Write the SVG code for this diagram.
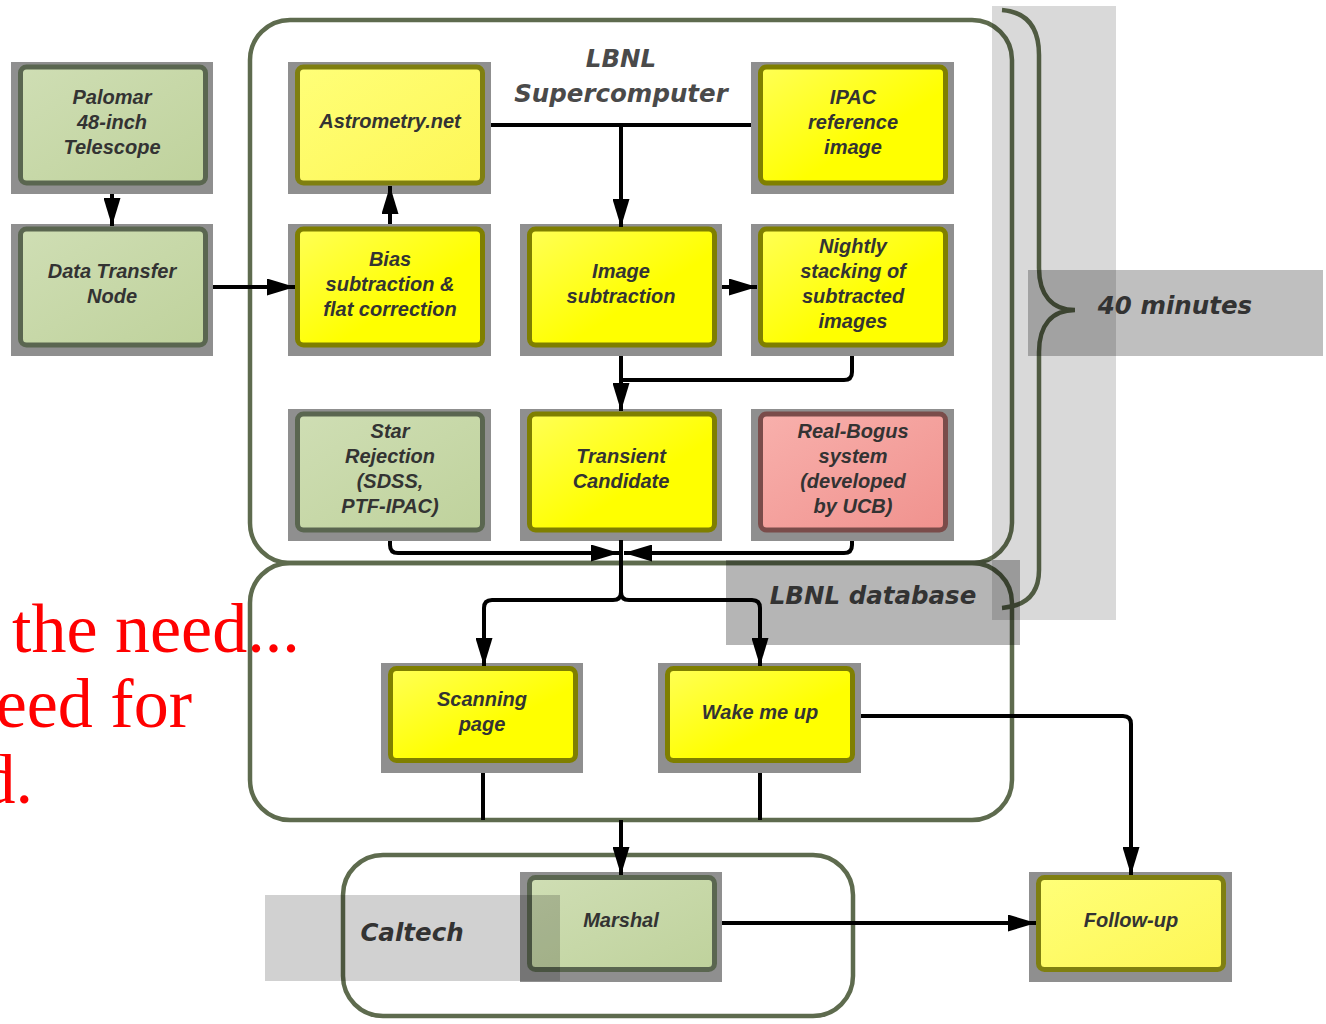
<svg xmlns="http://www.w3.org/2000/svg" width="1326" height="1024" viewBox="0 0 1326 1024">
<style>
.cont{fill:none;stroke:#5e6b4e;stroke-width:4.5}
.sh{fill:#8f8f8f}
.iy{fill:url(#gY);stroke:#7f7f00;stroke-width:5}
.ip{fill:url(#gP);stroke:#7f7f10;stroke-width:5}
.ig{fill:url(#gG);stroke:#5a6650;stroke-width:5}
.ir{fill:url(#gR);stroke:#7a4c4a;stroke-width:5}
.nt{font-family:"Liberation Sans",Arial,sans-serif;font-weight:bold;font-style:italic;font-size:20px;fill:#333;text-anchor:middle}
.lb{font-family:"DejaVu Sans",sans-serif;font-weight:bold;font-style:oblique;font-size:24.5px;fill:#333;text-anchor:middle}
.cn{fill:none;stroke:#000;stroke-width:4;stroke-linejoin:round}
.red{font-family:"Liberation Serif","Times New Roman",serif;font-size:70px;fill:#ff0000}
</style>
<defs>
<linearGradient id="gY" x1="0" y1="0" x2="1" y2="1"><stop offset="0" stop-color="#ffff55"/><stop offset="0.6" stop-color="#ffff00"/></linearGradient>
<linearGradient id="gP" x1="0" y1="0" x2="1" y2="1"><stop offset="0" stop-color="#ffff78"/><stop offset="1" stop-color="#fdf655"/></linearGradient>
<linearGradient id="gG" x1="0" y1="0" x2="1" y2="1"><stop offset="0" stop-color="#cfdeb4"/><stop offset="1" stop-color="#bfd29c"/></linearGradient>
<linearGradient id="gR" x1="0" y1="0" x2="1" y2="1"><stop offset="0" stop-color="#f8b0ac"/><stop offset="1" stop-color="#f0928e"/></linearGradient>
<marker id="ah" markerUnits="userSpaceOnUse" markerWidth="28" markerHeight="17" viewBox="0 0 28 17" refX="28" refY="8.5" orient="auto"><path d="M0,0 L28,8.5 L0,17 z" fill="#000"/></marker>
</defs>

<g id="containers">
<rect id="lbnl-super" class="cont" x="250" y="20" width="762" height="543" rx="40"/>
<rect id="lbnl-db" class="cont" x="250" y="563" width="762" height="257" rx="40"/>
<rect id="caltech" class="cont" x="343" y="855" width="510" height="161" rx="40"/>
<path id="brace" class="cont" d="M1002,10 C1026,12 1039,26 1039,55 V268 C1039,295 1052,310 1075,310 C1052,310 1039,325 1039,352 V570 C1039,594 1026,606 1002,608"/>
</g>

<g id="palomar"><rect class="sh" x="11" y="62" width="202" height="132"/><rect class="ig" x="20.5" y="67" width="185" height="116" rx="6"/>
<text class="nt" x="112" y="104">Palomar</text><text class="nt" x="112" y="129">48-inch</text><text class="nt" x="112" y="154">Telescope</text></g>

<g id="dtn"><rect class="sh" x="11" y="224" width="202" height="132"/><rect class="ig" x="20.5" y="229" width="185" height="116" rx="6"/>
<text class="nt" x="112" y="278">Data Transfer</text><text class="nt" x="112" y="303">Node</text></g>

<g id="astrometry"><rect class="sh" x="288" y="62" width="203" height="132"/><rect class="ip" x="297.5" y="67" width="185" height="116" rx="6"/>
<text class="nt" x="390" y="128">Astrometry.net</text></g>

<g id="ipac"><rect class="sh" x="751" y="62" width="203" height="132"/><rect class="iy" x="760.5" y="67" width="185" height="116" rx="6"/>
<text class="nt" x="853" y="104">IPAC</text><text class="nt" x="853" y="129">reference</text><text class="nt" x="853" y="154">image</text></g>

<g id="bias"><rect class="sh" x="288" y="224" width="203" height="132"/><rect class="iy" x="297.5" y="229" width="185" height="116" rx="6"/>
<text class="nt" x="390" y="266">Bias</text><text class="nt" x="390" y="291">subtraction &amp;</text><text class="nt" x="390" y="316">flat correction</text></g>

<g id="imagesub"><rect class="sh" x="520" y="224" width="202" height="132"/><rect class="iy" x="529.5" y="229" width="185" height="116" rx="6"/>
<text class="nt" x="621" y="278">Image</text><text class="nt" x="621" y="303">subtraction</text></g>

<g id="nightly"><rect class="sh" x="751" y="224" width="203" height="132"/><rect class="iy" x="760.5" y="229" width="185" height="116" rx="6"/>
<text class="nt" x="853" y="253">Nightly</text><text class="nt" x="853" y="278">stacking of</text><text class="nt" x="853" y="303">subtracted</text><text class="nt" x="853" y="328">images</text></g>

<g id="star"><rect class="sh" x="288" y="409" width="203" height="132"/><rect class="ig" x="297.5" y="414" width="185" height="116" rx="6"/>
<text class="nt" x="390" y="438">Star</text><text class="nt" x="390" y="463">Rejection</text><text class="nt" x="390" y="488">(SDSS,</text><text class="nt" x="390" y="513">PTF-IPAC)</text></g>

<g id="transient"><rect class="sh" x="520" y="409" width="202" height="132"/><rect class="iy" x="529.5" y="414" width="185" height="116" rx="6"/>
<text class="nt" x="621" y="463">Transient</text><text class="nt" x="621" y="488">Candidate</text></g>

<g id="realbogus"><rect class="sh" x="751" y="409" width="203" height="132"/><rect class="ir" x="760.5" y="414" width="185" height="116" rx="6"/>
<text class="nt" x="853" y="438">Real-Bogus</text><text class="nt" x="853" y="463">system</text><text class="nt" x="853" y="488">(developed</text><text class="nt" x="853" y="513">by UCB)</text></g>

<g id="scanning"><rect class="sh" x="381" y="663" width="202" height="110"/><rect class="iy" x="390.5" y="668.5" width="185" height="92" rx="6"/>
<text class="nt" x="482" y="706">Scanning</text><text class="nt" x="482" y="731">page</text></g>

<g id="wake"><rect class="sh" x="658" y="663" width="203" height="110"/><rect class="iy" x="667.5" y="668.5" width="185" height="92" rx="6"/>
<text class="nt" x="760" y="719">Wake me up</text></g>

<g id="marshal"><rect class="sh" x="520" y="872" width="202" height="110"/><rect class="ig" x="529.5" y="877.5" width="185" height="92" rx="6"/>
<text class="nt" x="621" y="927">Marshal</text></g>

<g id="followup"><rect class="sh" x="1029" y="872" width="203" height="110"/><rect class="ip" x="1038.5" y="877.5" width="185" height="92" rx="6"/>
<text class="nt" x="1131" y="927">Follow-up</text></g>

<g id="connectors">
<path class="cn" d="M112,194 V226" marker-end="url(#ah)"/>
<path class="cn" d="M213,287 H295" marker-end="url(#ah)"/>
<path class="cn" d="M390,224 V186" marker-end="url(#ah)"/>
<path class="cn" d="M491,125 H751"/>
<path class="cn" d="M621,125 V227" marker-end="url(#ah)"/>
<path class="cn" d="M722,287 H757" marker-end="url(#ah)"/>
<path class="cn" d="M852,356 V372 Q852,380 844,380 H621"/>
<path class="cn" d="M621,356 V411" marker-end="url(#ah)"/>
<path class="cn" d="M390,541 V545 Q390,553 398,553 H619" marker-end="url(#ah)"/>
<path class="cn" d="M852,541 V545 Q852,553 844,553 H624" marker-end="url(#ah)"/>
<path class="cn" d="M621,540 V592 Q621,600 613,600 H492 Q484,600 484,608 V666" marker-end="url(#ah)"/>
<path class="cn" d="M621,592 Q621,600 629,600 H752 Q760,600 760,608 V666" marker-end="url(#ah)"/>
<path class="cn" d="M483,773 V820"/>
<path class="cn" d="M760,773 V820"/>
<path class="cn" d="M621,820 V875" marker-end="url(#ah)"/>
<path class="cn" d="M861,716 H1123 Q1131,716 1131,724 V875" marker-end="url(#ah)"/>
<path class="cn" d="M722,923 H1036" marker-end="url(#ah)"/>
</g>

<g id="labels">
<rect x="992" y="6" width="124" height="614" fill="#000" fill-opacity="0.15"/>
<rect x="1028" y="270" width="295" height="86" fill="#000" fill-opacity="0.25"/>
<rect x="726" y="560" width="294" height="85" fill="#000" fill-opacity="0.29"/>
<rect x="265" y="895" width="295" height="86" fill="#000" fill-opacity="0.18"/>
<text class="lb" x="621" y="67" style="fill:#4a4a4a">LBNL</text>
<text class="lb" x="621" y="102" style="fill:#4a4a4a">Supercomputer</text>
<text class="lb" x="1175" y="314">40 minutes</text>
<text class="lb" x="873" y="604">LBNL database</text>
<text class="lb" x="412" y="941">Caltech</text>
</g>

<g id="overlay-text">
<text class="red" x="12" y="652">the need...</text>
<text class="red" x="192" y="727" text-anchor="end">eed for</text>
<text class="red" x="33" y="803" text-anchor="end">d.</text>
</g>
</svg>
